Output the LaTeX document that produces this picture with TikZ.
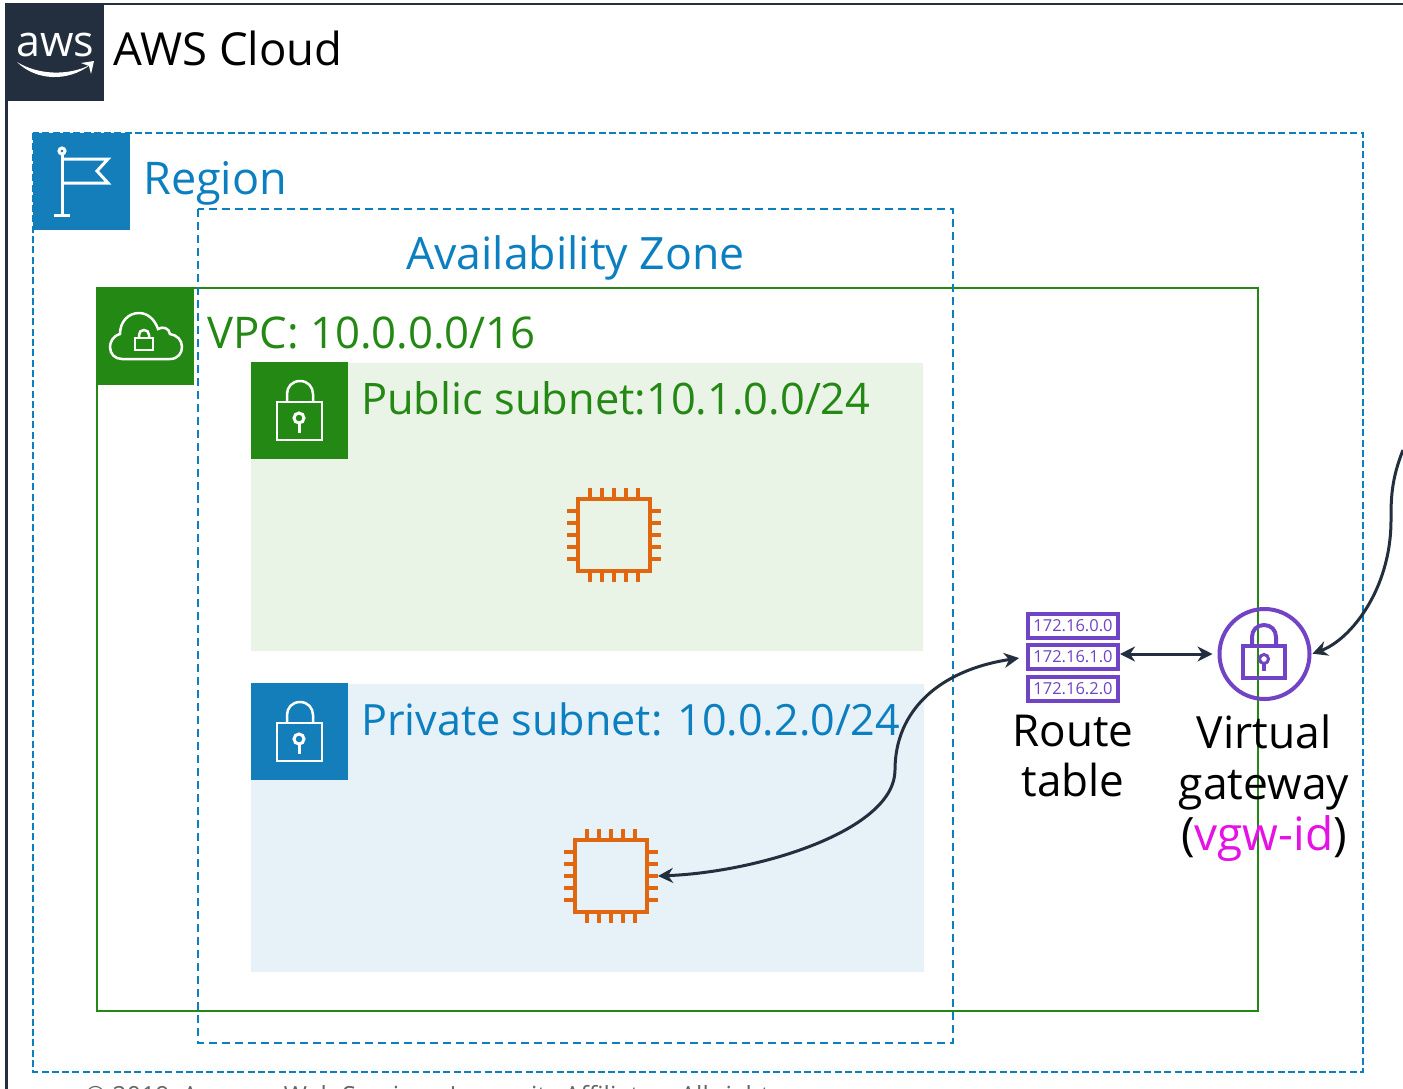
\documentclass[tikz,border=0pt]{standalone}
\usepackage{fontspec}
\setmainfont{Open Sans}
\usetikzlibrary{arrows.meta}
\definecolor{awsdark}{HTML}{232F3E}
\definecolor{awsblue}{HTML}{147EBA}
\definecolor{dashblue}{HTML}{0C7FC0}
\definecolor{awsgreen}{HTML}{248814}
\definecolor{pubfill}{HTML}{E9F3E6}
\definecolor{privfill}{HTML}{E6F2F8}
\definecolor{awspurple}{HTML}{7044C4}
\definecolor{awsorange}{HTML}{E0660F}
\definecolor{vgwpink}{HTML}{E512E5}
\tikzset{
  >={Stealth[length=15pt,width=15pt]},
  lbl/.style={inner sep=0pt,anchor=base west,font=\fontsize{#1}{50}\selectfont},
  ctr/.style={inner sep=0pt,anchor=base,font=\fontsize{#1}{50}\selectfont,text=black},
  iconbox/.style={inner sep=0pt,minimum size=97pt,anchor=north west,fill=#1},
  rtrow/.style={draw=awspurple,line width=4pt,fill=white,inner sep=0pt,minimum width=90pt,minimum height=24pt,
    text=awspurple,font=\fontsize{16.5}{20}\selectfont},
  chip/.style={draw=awsorange,line width=3.5pt,minimum size=72pt,inner sep=0pt,outer sep=11pt},
  conn/.style={awsdark,line width=3pt},
  icon/.style={white,line width=3pt},
  sublock/.pic={
    \draw[icon,line width=2.5pt] (26,40) rectangle (71,78);
    \draw[icon,line width=2.5pt] (36,40) -- (36,32) .. controls (36,25) and (41,19) .. (49,19) .. controls (57,19) and (62,25) .. (62,32) -- (62,40);
    \draw[icon] (48,56) circle (5pt);
    \draw[icon] (48,61) -- (48,71);
  },
  chippins/.pic={
    \foreach \p in {-24,-12,0,12,24} {
      \draw[awsorange,line width=3.5pt] (\p,-36) -- (\p,-47);
      \draw[awsorange,line width=3.5pt] (\p,36) -- (\p,47);
      \draw[awsorange,line width=3.5pt] (-36,\p) -- (-47,\p);
      \draw[awsorange,line width=3.5pt] (36,\p) -- (47,\p);
    }
  }
}
\begin{document}
\begin{tikzpicture}[x=1pt,y=-1pt]
  \path[use as bounding box,clip] (0,0) rectangle (1403,1088);
  \fill[white] (0,0) rectangle (1403,1088);
  % cloud
  \draw[awsdark,line width=2.5pt] (6.5,1090) -- (6.5,4) -- (1405,4);
  \node[iconbox=awsdark] (awsbox) at (6.5,4) {};
  \node[inner sep=0pt,anchor=base,text=white,font=\fontsize{43}{50}\selectfont] (awslogo) at (55.5,56) {aws};
  \fill[white] (17,62) .. controls (38,75) and (68,76) .. (90,65) .. controls (68,82) and (36,81) .. (17,62) -- cycle;
  \fill[white] (81,63) -- (94,61) -- (91,74) -- (89,66) -- cycle;
  \node[lbl=45.5,text=black] (cloudlbl) at (113,65) {AWS Cloud};
  % region
  \draw[dashblue,line width=2.5pt,dash pattern=on 7pt off 3.3pt] (33,133) rectangle (1363,1072);
  \node[iconbox=awsblue] (regionbox) at (33,133) {};
  \draw[icon] (62,155) -- (62,215);
  \draw[icon] (54,215) -- (70,215);
  \draw[icon] (62,151) circle (3pt);
  \draw[icon] (62,159) -- (108,159) -- (97,171) -- (108,183) -- (62,183);
  \node[lbl=45,text=dashblue] (regionlbl) at (143,194) {Region};
  % vpc
  \draw[awsgreen,line width=2.5pt] (97,288) rectangle (1258,1011);
  \node[iconbox=awsgreen] (vpcbox) at (97,288) {};
  \draw[icon,line width=2.5pt] (122,359) -- (170,359) .. controls (178,359) and (182,353) .. (182,347)
    .. controls (182,340) and (177,335) .. (170,334) .. controls (169,328) and (163,326) .. (158,329)
    .. controls (155,320) and (148,313) .. (139,313) .. controls (128,313) and (120,322) .. (120,334)
    .. controls (113,336) and (110,342) .. (110,347) .. controls (110,354) and (115,359) .. (122,359) -- cycle;
  \draw[icon,line width=2.5pt] (135,338) rectangle (153,350);
  \draw[icon,line width=2.5pt] (139,338) -- (139,335) .. controls (139,332) and (141,330) .. (144,330) .. controls (147,330) and (149,332) .. (149,335) -- (149,338);
  \node[lbl=43.7,text=awsgreen] (vpclbl) at (207,348) {VPC: 10.0.0.0/16};
  % subnets
  \fill[pubfill] (251,363) rectangle (923,651);
  \node[iconbox=awsgreen] (pubbox) at (251,362) {};
  \pic at (251,362) {sublock};
  \node[lbl=43.4,text=awsgreen] (publbl) at (361,414) {Public subnet:10.1.0.0/24};
  \fill[privfill] (251,684) rectangle (924,972);
  \node[iconbox=awsblue] (privbox) at (251,683) {};
  \pic at (251,683) {sublock};
  \node[lbl=43.1,text=dashblue] (privlbl) at (361,735) {Private subnet: 10.0.2.0/24};
  \node[chip] (pubinst) at (614,535) {};
  \pic at (614,535) {chippins};
  \node[chip] (privinst) at (611,876) {};
  \pic at (611,876) {chippins};
  % az
  \draw[dashblue,line width=2.5pt,dash pattern=on 8pt off 5pt] (198,209) rectangle (953,1043);
  \node[lbl=44.6,text=dashblue] (azlbl) at (406,269) {Availability Zone};
  % route table and gateway
  \node[rtrow] (rta) at (1073,626) {172.16.0.0};
  \node[rtrow] (rtb) at (1073,657) {172.16.1.0};
  \node[rtrow] (rtc) at (1073,689) {172.16.2.0};
  \node[ctr=44] (rtlbla) at (1073,746) {Route};
  \node[ctr=44] (rtlblb) at (1073,796) {table};
  \node[circle,draw=awspurple,line width=4pt,minimum size=90pt,inner sep=0pt] (vgw) at (1264.5,654) {};
  \draw[awspurple,line width=4pt] (1243,646) rectangle (1285,678);
  \draw[awspurple,line width=4pt] (1252,646) -- (1252,637) .. controls (1252,630) and (1257,625) .. (1264,625) .. controls (1271,625) and (1276,630) .. (1276,637) -- (1276,646);
  \draw[awspurple,line width=3pt] (1264,659) circle (4.5pt);
  \draw[awspurple,line width=4pt] (1264,664) -- (1264,671);
  \node[ctr=44.4] (vgwlbla) at (1264,748) {Virtual};
  \node[ctr=44.4] (vgwlblb) at (1264,799) {gateway};
  \node[ctr=46] (vgwlblc) at (1264,850) {(\textcolor{vgwpink}{vgw-id})};
  \node[inner sep=0pt,anchor=base west,text=black!60,font=\fontsize{25}{28}\selectfont] (copylbl) at (85,1104) {© 2019, Amazon Web Services, Inc. or its Affiliates. All rights};
  % connectors
  \coordinate (vpnend) at (1403,450);
  \draw[conn,<->,shorten <=7pt] (rtb.west) .. controls (940,670) and (895,710) .. (895,770) .. controls (895,830) and (760,872) .. (privinst.east);
  \draw[conn,<->,shorten >=5pt] (rtb.east |- vgw.west) -- (vgw.west);
  \draw[conn,->,shorten >=1pt] (vpnend) .. controls (1391,480) and (1391,500) .. (1391,520) .. controls (1391,590) and (1350,640) .. (vgw.east);
\end{tikzpicture}
\end{document}
